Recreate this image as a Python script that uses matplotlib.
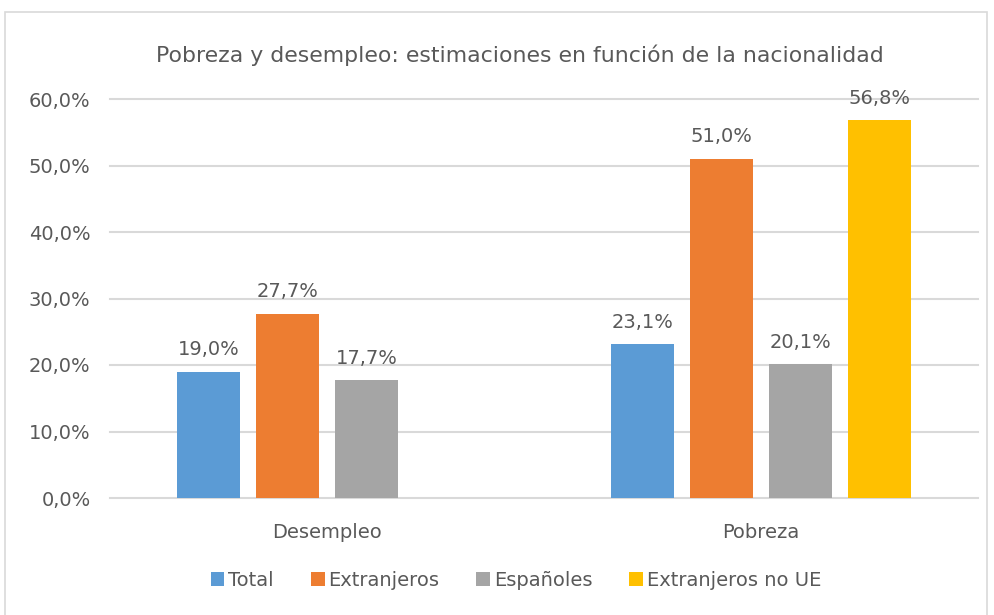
import numpy as np
import matplotlib.pyplot as plt
from matplotlib.patches import Rectangle

categories = ['Desempleo', 'Pobreza']
series = ['Total', 'Extranjeros', 'Españoles', 'Extranjeros no UE']
total = [19.0, 23.1]
extranjeros = [27.7, 51.0]
espanoles = [17.7, 20.1]
extranjeros_no_ue = [np.nan, 56.8]
colors = ['#5b9bd5', '#ed7d31', '#a5a5a5', '#ffc000']
yticks = [0, 10, 20, 30, 40, 50, 60]

text_col = '#595959'
plt.rcParams['font.family'] = ['DejaVu Sans']

fig = plt.figure(figsize=(9.95, 6.15), dpi=100)
fig.patches.append(Rectangle((5 / 995, -0.01), 982 / 995, 1 - 12 / 615 + 0.01,
                             transform=fig.transFigure, fill=False,
                             edgecolor='#d9d9d9', linewidth=1.2))
ax = fig.add_axes([110 / 995, 1 - 498 / 615, 868 / 995, 399 / 615])

x = np.arange(len(categories))
step = 0.182
width = 0.143
all_vals = [total, extranjeros, espanoles, extranjeros_no_ue]
for i, (name, vals) in enumerate(zip(series, all_vals)):
    pos = x + (i - 1.5) * step
    bars = ax.bar(pos, vals, width, color=colors[i], label=name, zorder=3)
    for b, v in zip(bars, vals):
        if np.isnan(v):
            continue
        ax.annotate(f'{v:.1f}%'.replace('.', ','), (b.get_x() + b.get_width() / 2, v),
                    xytext=(0, 9), textcoords='offset points', ha='center', va='bottom',
                    fontsize=14, color=text_col)

ax.set_xlim(-0.5, 1.5)
ax.set_ylim(0, 60)
ax.set_yticks(yticks)
ax.set_yticklabels([f'{t:.1f}%'.replace('.', ',') for t in yticks])
ax.set_xticks(x)
ax.set_xticklabels(categories)
ax.tick_params(axis='both', length=0, labelsize=14, labelcolor=text_col)
ax.tick_params(axis='x', pad=18)
ax.tick_params(axis='y', pad=14)
# gridlines drawn by hand so the top and bottom ones are not clipped
for t in yticks:
    ax.axhline(t, color='#d9d9d9', linewidth=1.5, zorder=0, clip_on=False)
for s in ax.spines.values():
    s.set_visible(False)

fig.text(520 / 995, 1 - 55 / 615, 'Pobreza y desempleo: estimaciones en función de la nacionalidad',
         ha='center', va='center', fontsize=15.8, color=text_col)

fig.legend(loc='center', bbox_to_anchor=(516 / 995, 1 - 580 / 615), ncol=4, frameon=False,
           fontsize=14, labelcolor=text_col, handlelength=0.7, handleheight=0.7,
           handletextpad=0.2, columnspacing=1.9)

fig.savefig('out.png', dpi=100)
